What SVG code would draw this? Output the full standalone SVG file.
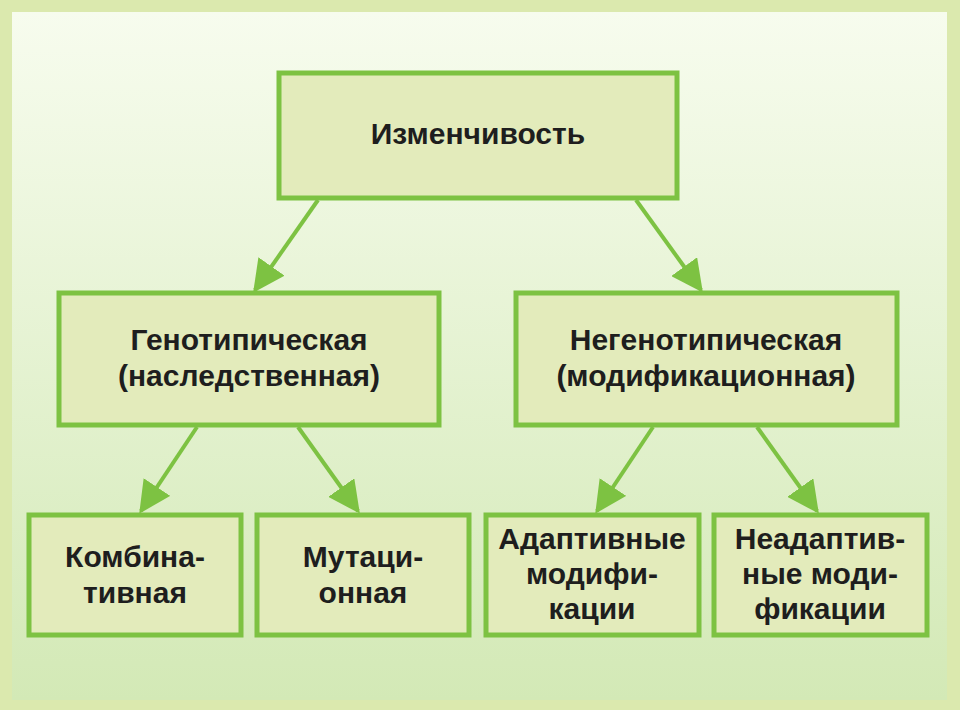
<svg xmlns="http://www.w3.org/2000/svg" width="960" height="720" viewBox="0 0 960 720">
<defs>
<linearGradient id="bg" x1="0" y1="0" x2="0" y2="1">
<stop offset="0" stop-color="#f7fcee"/>
<stop offset="1" stop-color="#d3e9b6"/>
</linearGradient>
<marker id="ah" viewBox="0 0 10 10" refX="9" refY="5" markerWidth="8" markerHeight="8" markerUnits="strokeWidth" orient="auto">
<path d="M0,0 L10,5 L0,10 Z" fill="#7dc242"/>
</marker>
<style>
.box{fill:#e3ebbb;stroke:#7dc242;stroke-width:5}
.t{font-family:"Liberation Sans",Arial,sans-serif;font-weight:bold;font-size:30px;fill:#1e1e1e;text-anchor:middle}
.c{stroke:#7dc242;stroke-width:4;fill:none;marker-end:url(#ah)}
</style>
</defs>
<rect width="960" height="720" fill="#ffffff"/>
<rect x="0" y="0" width="960" height="710" fill="#dbe9ae"/>
<rect x="12" y="12" width="935" height="688" fill="url(#bg)"/>
<g id="connectors">
<line class="c" x1="318" y1="200" x2="255" y2="290"/>
<line class="c" x1="636" y1="200" x2="701" y2="290"/>
<line class="c" x1="197" y1="427" x2="141" y2="511"/>
<line class="c" x1="298" y1="427" x2="358" y2="511"/>
<line class="c" x1="653" y1="427" x2="597" y2="511"/>
<line class="c" x1="757" y1="427" x2="817" y2="511"/>
</g>
<g id="n0"><rect class="box" x="279" y="73" width="398" height="125"/><text class="t" x="478" y="144">Изменчивость</text></g>
<g id="n1"><rect class="box" x="59" y="293" width="380" height="132"/><text class="t" x="249" y="350">Генотипическая</text><text class="t" x="249" y="386">(наследственная)</text></g>
<g id="n2"><rect class="box" x="516" y="293" width="381" height="132"/><text class="t" x="706" y="350">Негенотипическая</text><text class="t" x="706" y="386">(модификационная)</text></g>
<g id="n3"><rect class="box" x="29" y="515" width="212" height="120"/><text class="t" x="135" y="567">Комбина-</text><text class="t" x="135" y="603">тивная</text></g>
<g id="n4"><rect class="box" x="257" y="515" width="212" height="120"/><text class="t" x="363" y="567">Мутаци-</text><text class="t" x="363" y="603">онная</text></g>
<g id="n5"><rect class="box" x="486" y="515" width="213" height="120"/><text class="t" x="592" y="549">Адаптивные</text><text class="t" x="592" y="584">модифи-</text><text class="t" x="592" y="619">кации</text></g>
<g id="n6"><rect class="box" x="714" y="515" width="213" height="120"/><text class="t" x="820" y="549">Неадаптив-</text><text class="t" x="820" y="584">ные моди-</text><text class="t" x="820" y="619">фикации</text></g>
</svg>
